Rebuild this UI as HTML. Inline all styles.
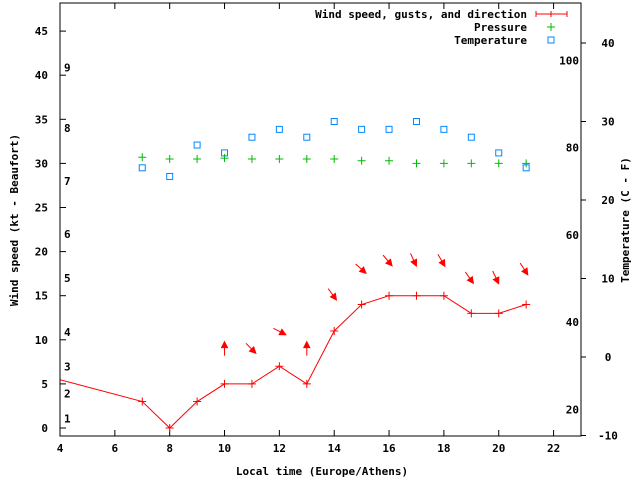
<!DOCTYPE html>
<html><head><meta charset="utf-8"><style>
body{margin:0;background:#fff}
svg text{font-family:"DejaVu Sans Mono","Liberation Mono",monospace;font-size:11px;font-weight:bold;fill:#000}
</style></head><body>
<svg id="c" width="640" height="480" xmlns="http://www.w3.org/2000/svg">
<defs><clipPath id="pc"><rect x="60" y="3" width="521" height="433"/></clipPath></defs>
<g id="grid"></g>
<g id="marks" clip-path="url(#pc)"></g>
<rect x="60" y="3" width="521" height="433" fill="none" stroke="#000"/>
<g id="labels"></g>
<text x="322" y="475" text-anchor="middle">Local time (Europe/Athens)</text>
<text transform="translate(18,220) rotate(-90)" text-anchor="middle">Wind speed (kt - Beaufort)</text>
<text transform="translate(629,220) rotate(-90)" text-anchor="middle">Temperature (C - F)</text>
<g>
<text x="527" y="18" text-anchor="end">Wind speed, gusts, and direction</text>
<path d="M536,14H567M536,11V17M567,11V17M551,11V17" stroke="#f00"/>
<text x="527" y="31" text-anchor="end">Pressure</text>
<path d="M547,27H555M551,23V31" stroke="#0b0"/>
<text x="527" y="44" text-anchor="end">Temperature</text>
<rect x="548" y="37" width="6" height="6" fill="none" stroke="#08f"/>
</g>
</svg>
<script>
const hours=[3,7,8,9,10,11,12,13,14,15,16,17,18,19,20,21];
const windSpeed=[6.3,3,0,3,5,5,7,5,11,14,15,15,15,13,13,14];
const pressHours=[7,8,9,10,11,12,13,14,15,16,17,18,19,20,21];
const pressure=[30.7,30.5,30.5,30.6,30.5,30.5,30.5,30.5,30.3,30.3,30.0,30.0,30.0,30.0,30.0];
const temperature=[24.1,23,27,26,28,29,28,30,29,29,30,29,28,26,24.1];
const arrowHours=[10,11,12,13,14,15,16,17,18,19,20,21];
const arrowBase=[8.2,9.6,11.3,8.2,15.8,18.6,19.6,19.8,19.7,17.7,17.8,18.7];
const arrowAngle=[-90,45,27,-90,54,42,50,65,60,55,65,57];
const xTicks=[4,6,8,10,12,14,16,18,20,22];
const yTicks=[0,5,10,15,20,25,30,35,40,45];
const y2Ticks=[-10,0,10,20,30,40];
const beaufort=[1,2,3,4,5,6,7,8,9];
const beaufortKt=[1.1,3.9,7,10.9,17,22,28,34,40.9];
const fTicks=[20,40,60,80,100];
const NS="http://www.w3.org/2000/svg";
const X=v=>60+(v-4)*521/19;
const Y=v=>428-v*8.82;
const Y2=v=>357-v*7.85;
function el(p,t,a){const e=document.createElementNS(NS,t);for(const k in a)e.setAttribute(k,a[k]);p.appendChild(e);return e;}
const G=document.getElementById('grid'),M=document.getElementById('marks'),L=document.getElementById('labels');
xTicks.forEach(v=>{const x=X(v);
 const t=el(G,'path',{d:`M${x},436v-6M${x},3v6`,stroke:'#000'});
 
 const s=el(L,'text',{x:x,y:452,'text-anchor':'middle'});s.textContent=v;
 });
yTicks.forEach(v=>{const y=Y(v);
 const t=el(G,'path',{d:`M60,${y}h6`,stroke:'#000'});
 
 const s=el(L,'text',{x:48,y:y+4,'text-anchor':'end'});s.textContent=v;
 });
y2Ticks.forEach(v=>{const y=Y2(v);
 const t=el(G,'path',{d:`M581,${y}h5`,stroke:'#000'});
 
 const s=el(L,'text',{x:608,y:y+4,'text-anchor':'middle'});s.textContent=v;
 });
beaufort.forEach((b,i)=>{const s=el(L,'text',{x:64,y:Y(beaufortKt[i])+4});s.textContent=b;
 });
fTicks.forEach(f=>{const s=el(L,'text',{x:579,y:Y2((f-32)*5/9)+4,'text-anchor':'end'});s.textContent=f;
 });
const line=el(M,'polyline',{points:hours.map((h,i)=>X(h)+','+Y(windSpeed[i])).join(' '),fill:'none',stroke:'#f00'});

hours.forEach((h,i)=>{const x=X(h),y=Y(windSpeed[i]);
 const p=el(M,'path',{d:`M${x-4},${y}h8M${x},${y-4}v8`,stroke:'#f00'});
 });
pressHours.forEach((h,i)=>{const x=X(h),y=Y(pressure[i]);
 const p=el(M,'path',{d:`M${x-4},${y}h8M${x},${y-4}v8`,stroke:'#0b0'});
 });
pressHours.forEach((h,i)=>{const x=X(h),y=Y2(temperature[i]);
 const p=el(M,'rect',{x:x-3,y:y-3,width:6,height:6,fill:'none',stroke:'#08f'});
 });
arrowHours.forEach((h,i)=>{const x=X(h)-(arrowAngle[i]===-90?0:6),y=Y(arrowBase[i]);
 const a=arrowAngle[i]*Math.PI/180,len=14,ex=x+len*Math.cos(a),ey=y+len*Math.sin(a);
 const hx=ex-6*Math.cos(a),hy=ey-6*Math.sin(a),px=-Math.sin(a)*3,py=Math.cos(a)*3;
 const g=el(M,'g',{});
 
 el(g,'line',{x1:x,y1:y,x2:hx,y2:hy,stroke:'#f00'});
 el(g,'polygon',{points:`${ex},${ey} ${hx+px},${hy+py} ${hx-px},${hy-py}`,fill:'#f00',stroke:'#f00'});});
</script>
</body></html>
